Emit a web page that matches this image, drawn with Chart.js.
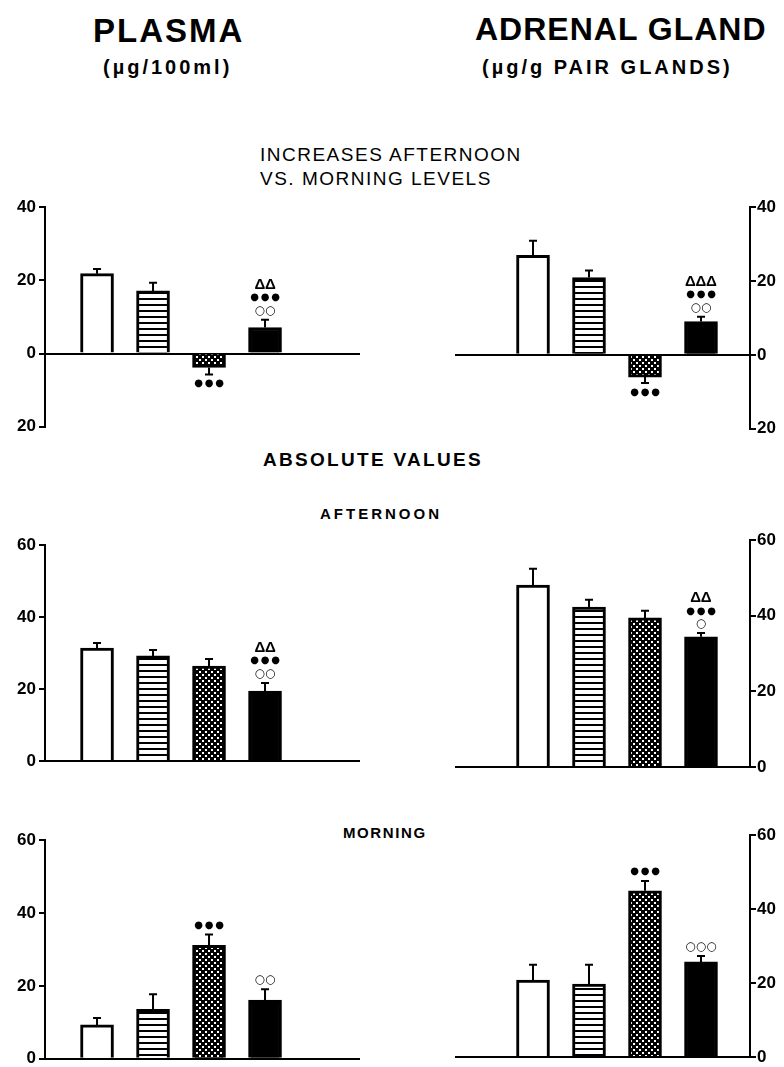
<!DOCTYPE html>
<html>
<head>
<meta charset="utf-8">
<script src="https://cdn.jsdelivr.net/npm/chart.js@4.4.0/dist/chart.umd.min.js"></script>
<style>
body { margin:0; background:#fff; width:784px; height:1067px; position:relative; overflow:hidden;
       font-family:"Liberation Sans", Arial, sans-serif; color:#000; }
.t { position:absolute; white-space:nowrap; font-weight:bold; }
.p { position:absolute; }
</style>
</head>
<body>
<div class="t" style="left:93px; top:12px; font-size:33px; letter-spacing:2px;">PLASMA</div>
<div class="t" style="left:103px; top:56px; font-size:20px; letter-spacing:3px;">(µg/100ml)</div>
<div class="t" style="left:475px; top:11px; font-size:32px; letter-spacing:1px;">ADRENAL GLAND</div>
<div class="t" style="left:482px; top:56px; font-size:20px; letter-spacing:3px;">(µg/g PAIR GLANDS)</div>
<div class="t" style="left:260px; top:144px; font-size:19px; font-weight:normal; letter-spacing:1.5px;">INCREASES AFTERNOON</div>
<div class="t" style="left:260px; top:168px; font-size:19px; font-weight:normal; letter-spacing:1.5px;">VS. MORNING LEVELS</div>
<div class="t" style="left:263px; top:449px; font-size:19px; letter-spacing:2.3px;">ABSOLUTE VALUES</div>
<div class="t" style="left:320px; top:505px; font-size:15px; letter-spacing:3px;">AFTERNOON</div>
<div class="t" style="left:343px; top:824px; font-size:15px; letter-spacing:1.6px;">MORNING</div>

<div class="p" style="left:0; top:190px; width:380px; height:250px;"><canvas id="plasmaInc"></canvas></div>
<div class="p" style="left:440px; top:190px; width:344px; height:250px;"><canvas id="adrenalInc"></canvas></div>
<div class="p" style="left:0; top:520px; width:380px; height:260px;"><canvas id="plasmaPm"></canvas></div>
<div class="p" style="left:440px; top:520px; width:344px; height:260px;"><canvas id="adrenalPm"></canvas></div>
<div class="p" style="left:0; top:820px; width:380px; height:252px;"><canvas id="plasmaAm"></canvas></div>
<div class="p" style="left:440px; top:820px; width:344px; height:252px;"><canvas id="adrenalAm"></canvas></div>

<script>
// the four groups (unlabelled in the figure), same order in every panel
const groups = ['Group 1', 'Group 2', 'Group 3', 'Group 4'];
const increaseTicks = [-20, 0, 20, 40];
const absoluteTicks = [0, 20, 40, 60];

// increases afternoon vs. morning
const plasmaIncrease = [21.8, 17.1, -3.8, 7.1];
const plasmaIncreaseErr = [1.3, 2.2, 1.9, 2.1];
const plasmaIncreaseMarks = [[], [], ['●●●'], ['ΔΔ', '●●●', '○○']];
const adrenalIncrease = [26.9, 20.9, -6.0, 9.0];
const adrenalIncreaseErr = [4.0, 1.9, 1.6, 1.3];
const adrenalIncreaseMarks = [[], [], ['●●●'], ['ΔΔΔ', '●●●', '○○']];

// absolute values, afternoon
const plasmaAfternoon = [31.4, 29.2, 26.4, 19.4];
const plasmaAfternoonErr = [1.4, 1.6, 1.9, 2.3];
const plasmaAfternoonMarks = [[], [], [], ['ΔΔ', '●●●', '○○']];
const adrenalAfternoon = [48.1, 42.3, 39.4, 34.4];
const adrenalAfternoonErr = [4.3, 1.9, 1.9, 1.0];
const adrenalAfternoonMarks = [[], [], [], ['ΔΔ', '●●●', '○']];

// absolute values, morning
const plasmaMorning = [9.3, 13.6, 31.1, 16.1];
const plasmaMorningErr = [1.9, 4.1, 3.0, 3.0];
const plasmaMorningMarks = [[], [], ['●●●'], ['○○']];
const adrenalMorning = [20.8, 19.7, 44.9, 25.7];
const adrenalMorningErr = [4.1, 5.2, 2.7, 1.6];
const adrenalMorningMarks = [[], [], ['●●●'], ['○○○']];

function tile(w, h, paint) {
    const c = document.createElement('canvas');
    c.width = w; c.height = h;
    const g = c.getContext('2d');
    paint(g);
    return g.createPattern(c, 'repeat');
}

const stripes = tile(8, 6, g => {
    g.fillStyle = '#fff'; g.fillRect(0, 0, 8, 6);
    g.fillStyle = '#000'; g.fillRect(0, 0, 8, 2);
});
const dots = tile(6, 6, g => {
    g.fillStyle = '#000'; g.fillRect(0, 0, 6, 6);
    g.fillStyle = '#fff'; g.fillRect(1, 1, 2, 2); g.fillRect(4, 4, 2, 2);
});
const fills = ['#fff', stripes, dots, '#000'];

const markFonts = {
    '●': '10px "DejaVu Sans"',
    '○': 'bold 12px "DejaVu Sans"',
    'Δ': 'bold 15px "Liberation Sans"'
};

// SEM bars plus the significance symbols stacked past them
const errorBars = {
    id: 'errorBars',
    afterDatasetsDraw(chart) {
        const ctx = chart.ctx, yScale = chart.scales.y;
        chart.data.datasets.forEach((ds, di) => {
            chart.getDatasetMeta(di).data.forEach((bar, i) => {
                const v = ds.data[i].y,
                      dir = v < 0 ? -1 : 1,
                      end = yScale.getPixelForValue(v + dir * ds.errors[i]);
                ctx.save();
                ctx.strokeStyle = '#000';
                ctx.lineWidth = 2;
                ctx.beginPath();
                ctx.moveTo(bar.x, bar.y);
                ctx.lineTo(bar.x, end);
                ctx.moveTo(bar.x - 4, end);
                ctx.lineTo(bar.x + 4, end);
                ctx.stroke();

                const rows = ds.marks[i];
                ctx.fillStyle = '#000';
                ctx.textAlign = 'center';
                ctx.textBaseline = 'middle';
                rows.forEach((row, r) => {
                    const k = dir > 0 ? rows.length - 1 - r : r,
                          yy = end - dir * (9 + k * 13),
                          chars = Array.from(row);
                    chars.forEach((ch, c) => {
                        ctx.font = markFonts[ch] || '11px "DejaVu Sans"';
                        ctx.fillText(ch, bar.x + (c - (chars.length - 1) / 2) * 10.5, yy);
                    });
                });
                ctx.restore();
            });
        });
    }
};

function panel(id, values, errors, marks, ticks, side, pad) {
    const left = side === 'left';
    new Chart(document.getElementById(id), {
        type: 'bar',
        data: {
            datasets: [{
                label: id,
                data: values.map((v, i) => ({x: i + 1, y: v, group: groups[i]})),
                backgroundColor: fills,
                borderColor: '#000',
                borderWidth: 3,
                barThickness: 33,
                errors: errors,
                marks: marks
            }]
        },
        options: {
            animation: false,
            responsive: true,
            maintainAspectRatio: false,
            layout: {padding: pad},
            plugins: {legend: {display: false}, tooltip: {enabled: false}},
            scales: {
                x: {
                    type: 'linear',
                    display: false,
                    offset: false,
                    min: left ? 0.071 : -0.393,
                    max: left ? 5.696 : 4.875
                },
                y: {
                    position: side,
                    min: ticks[0],
                    max: ticks[ticks.length - 1],
                    afterBuildTicks: s => { s.ticks = ticks.map(v => ({value: v})); },
                    afterFit: s => { s.width = left ? 45 : 34; },
                    border: {display: true, color: '#000', width: 2},
                    grid: {
                        color: c => (c.tick && c.tick.value === 0) ? '#000' : 'rgba(0,0,0,0)',
                        lineWidth: 2,
                        drawTicks: true,
                        tickLength: 6,
                        tickColor: '#000',
                        tickWidth: 2
                    },
                    ticks: {
                        color: '#000',
                        padding: left ? 3 : 1,
                        font: {family: '"Liberation Sans", Arial', size: 17, weight: 'bold'},
                        callback: v => Math.abs(v)
                    }
                }
            }
        },
        plugins: [errorBars]
    });
}

panel('plasmaInc', plasmaIncrease, plasmaIncreaseErr, plasmaIncreaseMarks, increaseTicks, 'left',
      {left: 0, right: 20, top: 17, bottom: 12});
panel('adrenalInc', adrenalIncrease, adrenalIncreaseErr, adrenalIncreaseMarks, increaseTicks, 'right',
      {left: 15, right: 0, top: 17, bottom: 11});
panel('plasmaPm', plasmaAfternoon, plasmaAfternoonErr, plasmaAfternoonMarks, absoluteTicks, 'left',
      {left: 0, right: 20, top: 25, bottom: 19});
panel('adrenalPm', adrenalAfternoon, adrenalAfternoonErr, adrenalAfternoonMarks, absoluteTicks, 'right',
      {left: 15, right: 0, top: 20, bottom: 13});
panel('plasmaAm', plasmaMorning, plasmaMorningErr, plasmaMorningMarks, absoluteTicks, 'left',
      {left: 0, right: 20, top: 20, bottom: 12});
panel('adrenalAm', adrenalMorning, adrenalMorningErr, adrenalMorningMarks, absoluteTicks, 'right',
      {left: 15, right: 0, top: 15, bottom: 15});
</script>
</body>
</html>
